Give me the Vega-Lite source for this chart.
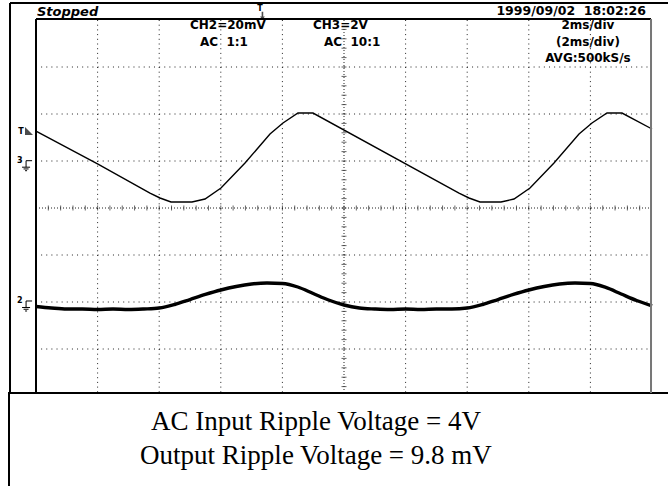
{
  "$schema": "https://vega.github.io/schema/vega-lite/v6.json",
  "width": 616,
  "height": 376,
  "autosize": {"type": "none"},
  "padding": {"left": 36, "top": 20, "right": 16, "bottom": 90},
  "background": "white",
  "config": {"view": {"stroke": null}},
  "datasets": {
    "ch3": [
      {"t": 0, "v": 1.638}, {"t": 2.013, "v": 0.936}, {"t": 3.701, "v": 0.319}, {"t": 4.026, "v": 0.213},
      {"t": 4.383, "v": 0.128}, {"t": 5.065, "v": 0.128}, {"t": 5.487, "v": 0.191}, {"t": 6.006, "v": 0.426},
      {"t": 6.786, "v": 0.957}, {"t": 7.597, "v": 1.574}, {"t": 8.019, "v": 1.809}, {"t": 8.506, "v": 2.021},
      {"t": 8.994, "v": 2.021}, {"t": 13.734, "v": 0.319}, {"t": 14.058, "v": 0.213}, {"t": 14.416, "v": 0.128},
      {"t": 15.097, "v": 0.128}, {"t": 15.519, "v": 0.191}, {"t": 16.039, "v": 0.426}, {"t": 16.818, "v": 0.957},
      {"t": 17.63, "v": 1.574}, {"t": 18.052, "v": 1.809}, {"t": 18.539, "v": 2.021}, {"t": 19.026, "v": 2.021},
      {"t": 20, "v": 1.681}
    ],
    "ch2": [
      {"t": 0, "v": -2.096}, {"t": 0.5, "v": -2.128}, {"t": 1, "v": -2.149}, {"t": 1.5, "v": -2.149},
      {"t": 2, "v": -2.16}, {"t": 2.5, "v": -2.149}, {"t": 3, "v": -2.16}, {"t": 3.5, "v": -2.149},
      {"t": 4, "v": -2.128}, {"t": 4.5, "v": -2.053}, {"t": 5, "v": -1.947}, {"t": 5.5, "v": -1.84},
      {"t": 6, "v": -1.745}, {"t": 6.5, "v": -1.67}, {"t": 7, "v": -1.617}, {"t": 7.5, "v": -1.596},
      {"t": 8, "v": -1.606}, {"t": 8.5, "v": -1.681}, {"t": 9, "v": -1.819}, {"t": 9.5, "v": -1.957},
      {"t": 10, "v": -2.064}, {"t": 10.5, "v": -2.128}, {"t": 11, "v": -2.149}, {"t": 11.5, "v": -2.16},
      {"t": 12, "v": -2.149}, {"t": 12.5, "v": -2.16}, {"t": 13, "v": -2.149}, {"t": 13.5, "v": -2.149},
      {"t": 14, "v": -2.128}, {"t": 14.5, "v": -2.053}, {"t": 15, "v": -1.947}, {"t": 15.5, "v": -1.84},
      {"t": 16, "v": -1.745}, {"t": 16.5, "v": -1.67}, {"t": 17, "v": -1.617}, {"t": 17.5, "v": -1.596},
      {"t": 18, "v": -1.606}, {"t": 18.5, "v": -1.691}, {"t": 19, "v": -1.83}, {"t": 19.5, "v": -1.968},
      {"t": 20, "v": -2.085}
    ],
    "vgrid": [
      {"t": 2, "v": 4, "v2": -4}, {"t": 4, "v": 4, "v2": -4}, {"t": 6, "v": 4, "v2": -4}, {"t": 8, "v": 4, "v2": -4},
      {"t": 12, "v": 4, "v2": -4}, {"t": 14, "v": 4, "v2": -4}, {"t": 16, "v": 4, "v2": -4}, {"t": 18, "v": 4, "v2": -4}
    ],
    "hgrid": [
      {"t": 0, "t2": 20, "v": 3}, {"t": 0, "t2": 20, "v": 2}, {"t": 0, "t2": 20, "v": 1},
      {"t": 0, "t2": 20, "v": -1}, {"t": 0, "t2": 20, "v": -2}, {"t": 0, "t2": 20, "v": -3}
    ],
    "vcenter": [{"t": 10, "v": 4, "v2": -4}],
    "hcenter": [{"t": 0, "t2": 20, "v": 0}],
    "xticks": [
      {"t": 0.4, "v": 0}, {"t": 0.8, "v": 0}, {"t": 1.2, "v": 0}, {"t": 1.6, "v": 0}, {"t": 2, "v": 0},
      {"t": 2.4, "v": 0}, {"t": 2.8, "v": 0}, {"t": 3.2, "v": 0}, {"t": 3.6, "v": 0}, {"t": 4, "v": 0},
      {"t": 4.4, "v": 0}, {"t": 4.8, "v": 0}, {"t": 5.2, "v": 0}, {"t": 5.6, "v": 0}, {"t": 6, "v": 0},
      {"t": 6.4, "v": 0}, {"t": 6.8, "v": 0}, {"t": 7.2, "v": 0}, {"t": 7.6, "v": 0}, {"t": 8, "v": 0},
      {"t": 8.4, "v": 0}, {"t": 8.8, "v": 0}, {"t": 9.2, "v": 0}, {"t": 9.6, "v": 0}, {"t": 10, "v": 0},
      {"t": 10.4, "v": 0}, {"t": 10.8, "v": 0}, {"t": 11.2, "v": 0}, {"t": 11.6, "v": 0}, {"t": 12, "v": 0},
      {"t": 12.4, "v": 0}, {"t": 12.8, "v": 0}, {"t": 13.2, "v": 0}, {"t": 13.6, "v": 0}, {"t": 14, "v": 0},
      {"t": 14.4, "v": 0}, {"t": 14.8, "v": 0}, {"t": 15.2, "v": 0}, {"t": 15.6, "v": 0}, {"t": 16, "v": 0},
      {"t": 16.4, "v": 0}, {"t": 16.8, "v": 0}, {"t": 17.2, "v": 0}, {"t": 17.6, "v": 0}, {"t": 18, "v": 0},
      {"t": 18.4, "v": 0}, {"t": 18.8, "v": 0}, {"t": 19.2, "v": 0}, {"t": 19.6, "v": 0}
    ],
    "yticks": [
      {"t": 10, "v": -3.8}, {"t": 10, "v": -3.6}, {"t": 10, "v": -3.4}, {"t": 10, "v": -3.2}, {"t": 10, "v": -3},
      {"t": 10, "v": -2.8}, {"t": 10, "v": -2.6}, {"t": 10, "v": -2.4}, {"t": 10, "v": -2.2}, {"t": 10, "v": -2},
      {"t": 10, "v": -1.8}, {"t": 10, "v": -1.6}, {"t": 10, "v": -1.4}, {"t": 10, "v": -1.2}, {"t": 10, "v": -1},
      {"t": 10, "v": -0.8}, {"t": 10, "v": -0.6}, {"t": 10, "v": -0.4}, {"t": 10, "v": -0.2}, {"t": 10, "v": 0},
      {"t": 10, "v": 0.2}, {"t": 10, "v": 0.4}, {"t": 10, "v": 0.6}, {"t": 10, "v": 0.8}, {"t": 10, "v": 1},
      {"t": 10, "v": 1.2}, {"t": 10, "v": 1.4}, {"t": 10, "v": 1.6}, {"t": 10, "v": 1.8}, {"t": 10, "v": 2},
      {"t": 10, "v": 2.2}, {"t": 10, "v": 2.4}, {"t": 10, "v": 2.6}, {"t": 10, "v": 2.8}, {"t": 10, "v": 3},
      {"t": 10, "v": 3.2}, {"t": 10, "v": 3.4}, {"t": 10, "v": 3.6}, {"t": 10, "v": 3.8}
    ],
    "box": [{"t": -0.877, "t2": 20.6, "v": -3.936, "v2": -6}],
    "frame": [
      {"t": -0.844, "t2": -0.844, "v": 4.362, "v2": -3.936},
      {"t": -0.844, "t2": 20.6, "v": 4.362, "v2": 4.362},
      {"t": 0, "t2": 0, "v": 4.021, "v2": -3.936},
      {"t": 0, "t2": 19.968, "v": 4.021, "v2": 4.021},
      {"t": -0.909, "t2": 20.6, "v": -3.936, "v2": -3.936},
      {"t": -0.877, "t2": -0.877, "v": -3.936, "v2": -6}
    ],
    "edge": [{"t": 19.968, "t2": 19.968, "v": 4.021, "v2": -3.936}],
    "leftText": [
      {"t": 5.0, "v": 3.809, "label": "CH2=20mV"},
      {"t": 5.325, "v": 3.457, "label": "AC\u00a0\u00a01:1"},
      {"t": 8.994, "v": 3.809, "label": "CH3=2V"},
      {"t": 9.351, "v": 3.457, "label": "AC\u00a0\u00a010:1"}
    ],
    "centerText": [
      {"t": 17.92, "v": 3.809, "label": "2ms/div"},
      {"t": 17.92, "v": 3.457, "label": "(2ms/div)"},
      {"t": 17.92, "v": 3.106, "label": "AVG:500kS/s"}
    ],
    "dateText": [{"t": 19.805, "v": 4.106, "label": "1999/09/02\u00a0\u00a018:02:26"}],
    "stateText": [{"t": 0.032, "v": 4.085, "label": "Stopped"}],
    "caption": [
      {"t": 9.09, "v": -4.723, "label": "AC Input Ripple Voltage = 4V"},
      {"t": 9.09, "v": -5.447, "label": "Output Ripple Voltage = 9.8 mV"}
    ],
    "smallLabels": [
      {"t": 7.273, "v": 4.191, "label": "T"},
      {"t": -0.487, "v": 1.574, "label": "T"},
      {"t": -0.53, "v": 0.957, "label": "3"},
      {"t": -0.53, "v": -2.021, "label": "2"}
    ],
    "trigTop": [{"t": 7.3, "v": 4.09}],
    "trigLeft": [{"t": -0.227, "v": 1.638}],
    "grounds": [{"t": -0.29, "v": 0.9}, {"t": -0.29, "v": -2.085}]
  },
  "encoding": {
    "x": {"field": "t", "type": "quantitative", "scale": {"domain": [0, 20], "nice": false, "zero": false}, "axis": null},
    "y": {"field": "v", "type": "quantitative", "scale": {"domain": [-4, 4], "nice": false, "zero": false}, "axis": null}
  },
  "layer": [
    {"data": {"name": "vgrid"}, "mark": {"type": "rule", "color": "#222", "strokeWidth": 1, "strokeDash": [1, 3.7]},
     "encoding": {"y2": {"field": "v2"}}},
    {"data": {"name": "hgrid"}, "mark": {"type": "rule", "color": "#222", "strokeWidth": 1, "strokeDash": [1, 4.13]},
     "encoding": {"x2": {"field": "t2"}}},
    {"data": {"name": "vcenter"}, "mark": {"type": "rule", "color": "#222", "strokeWidth": 1, "strokeDash": [1, 2]},
     "encoding": {"y2": {"field": "v2"}}},
    {"data": {"name": "hcenter"}, "mark": {"type": "rule", "color": "#222", "strokeWidth": 1, "strokeDash": [1, 2]},
     "encoding": {"x2": {"field": "t2"}}},
    {"data": {"name": "xticks"}, "mark": {"type": "tick", "orient": "vertical", "color": "#222", "size": 5, "thickness": 1}},
    {"data": {"name": "yticks"}, "mark": {"type": "tick", "orient": "horizontal", "color": "#222", "size": 5, "thickness": 1}},
    {"data": {"name": "ch3"}, "mark": {"type": "line", "color": "black", "strokeWidth": 1.4}},
    {"data": {"name": "ch2"}, "mark": {"type": "line", "color": "black", "strokeWidth": 3.4, "interpolate": "monotone"}},
    {"data": {"name": "box"}, "mark": {"type": "rect", "fill": "white"},
     "encoding": {"x2": {"field": "t2"}, "y2": {"field": "v2"}}},
    {"data": {"name": "frame"}, "mark": {"type": "rule", "color": "black", "strokeWidth": 2},
     "encoding": {"x2": {"field": "t2"}, "y2": {"field": "v2"}}},
    {"data": {"name": "edge"}, "mark": {"type": "rule", "color": "#777", "strokeWidth": 2},
     "encoding": {"x2": {"field": "t2"}, "y2": {"field": "v2"}}},
    {"data": {"name": "leftText"}, "mark": {"type": "text", "align": "left", "baseline": "alphabetic", "font": "DejaVu Sans", "fontWeight": "bold", "fontSize": 12, "color": "black"},
     "encoding": {"text": {"field": "label"}}},
    {"data": {"name": "centerText"}, "mark": {"type": "text", "align": "center", "baseline": "alphabetic", "font": "DejaVu Sans", "fontWeight": "bold", "fontSize": 12, "color": "black"},
     "encoding": {"text": {"field": "label"}}},
    {"data": {"name": "dateText"}, "mark": {"type": "text", "align": "right", "baseline": "alphabetic", "font": "DejaVu Sans", "fontWeight": "bold", "fontSize": 12.5, "color": "black"},
     "encoding": {"text": {"field": "label"}}},
    {"data": {"name": "stateText"}, "mark": {"type": "text", "align": "left", "baseline": "alphabetic", "font": "DejaVu Sans", "fontWeight": "bold", "fontStyle": "italic", "fontSize": 13, "color": "black"},
     "encoding": {"text": {"field": "label"}}},
    {"data": {"name": "caption"}, "mark": {"type": "text", "align": "center", "baseline": "alphabetic", "font": "Liberation Serif", "fontSize": 27, "color": "black"},
     "encoding": {"text": {"field": "label"}}},
    {"data": {"name": "smallLabels"}, "mark": {"type": "text", "align": "center", "baseline": "alphabetic", "font": "DejaVu Sans", "fontWeight": "bold", "fontSize": 8, "color": "black"},
     "encoding": {"text": {"field": "label"}}},
    {"data": {"name": "trigTop"}, "mark": {"type": "point", "shape": "M 0.6 -1 L 0.6 0.2 L 1 0.2 L 0.4 1 L -0.2 0.2 L 0.2 0.2 L 0.2 -1 Z", "filled": true, "color": "black", "size": 64}},
    {"data": {"name": "trigLeft"}, "mark": {"type": "point", "shape": "M -1 -1 L 1 1 L -1 1 Z", "filled": true, "color": "black", "size": 64}},
    {"data": {"name": "grounds"}, "mark": {"type": "point", "shape": "M 1 -1 L -0.2 -1 L -0.2 0.3 M -1 0.3 L 0.6 0.3 M -0.7 0.65 L 0.3 0.65 M -0.4 1 L 0 1", "filled": false, "color": "black", "strokeWidth": 1, "size": 100, "opacity": 1}}
  ]
}
